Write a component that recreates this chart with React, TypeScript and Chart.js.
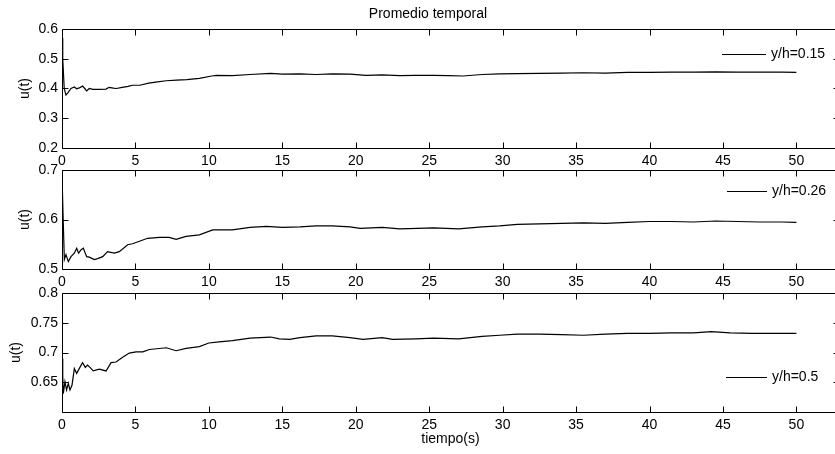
import React, { useEffect, useRef } from 'react';
import { Chart, registerables } from 'chart.js';

Chart.register(...registerables);

// ---------- data ----------
const chartTitle = 'Promedio temporal';
const xAxisTitle = 'tiempo(s)';
const yAxisTitle = 'u(t)';
const seriesLabels = ['y/h=0.15', 'y/h=0.26', 'y/h=0.5'];

const xTicks = [0, 5, 10, 15, 20, 25, 30, 35, 40, 45, 50];
const yTicks1 = [0.2, 0.3, 0.4, 0.5, 0.6];
const yTicks2 = [0.5, 0.6, 0.7];
const yTicks3 = [0.65, 0.7, 0.75, 0.8];

const t1 = [0, 0.05, 0.15, 0.27, 0.4, 0.61, 0.84, 1.0, 1.18, 1.4, 1.55, 1.68, 1.86, 2.1, 2.5, 3.0, 3.2, 3.5, 3.7, 4.1, 4.5, 4.8, 5.3, 5.9, 6.5, 7.1, 7.8, 8.5, 9.35, 10.2, 10.5, 11.6, 12.8, 14.2, 15, 16.2, 17.3, 18.4, 19.6, 20.7, 21.8, 23, 24, 25.3, 26.3, 27.3, 28.6, 29.8, 31, 32.5, 34, 35.5, 37, 38.5, 40, 41.5, 43, 44.5, 46, 47.5, 49, 50];
const v1 = [0.57, 0.5, 0.4, 0.378, 0.385, 0.4, 0.405, 0.399, 0.402, 0.408, 0.4, 0.392, 0.4, 0.397, 0.397, 0.398, 0.404, 0.401, 0.4, 0.404, 0.407, 0.411, 0.411, 0.418, 0.422, 0.426, 0.428, 0.43, 0.434, 0.442, 0.444, 0.443, 0.447, 0.451, 0.448, 0.449, 0.447, 0.449, 0.448, 0.444, 0.446, 0.443, 0.444, 0.444, 0.443, 0.442, 0.447, 0.449, 0.45, 0.451, 0.452, 0.453, 0.452, 0.454, 0.454, 0.455, 0.455, 0.456, 0.455, 0.455, 0.455, 0.454];

const t2 = [0, 0.08, 0.16, 0.27, 0.43, 0.61, 0.84, 1.0, 1.13, 1.3, 1.45, 1.68, 1.86, 2.2, 2.43, 2.77, 3.1, 3.56, 3.9, 4.47, 4.8, 5.27, 5.83, 6.63, 7.3, 7.77, 8.45, 9.35, 10.26, 10.7, 11.6, 12.8, 13.9, 15, 16.2, 17.3, 18.4, 19.6, 20.3, 21.8, 23, 24.2, 25.3, 27, 28.6, 29.8, 31, 32.5, 34, 35.5, 37, 38.5, 40, 41.5, 43, 44.5, 46, 47.5, 49, 50];
const v2 = [0.69, 0.6, 0.519, 0.529, 0.515, 0.525, 0.532, 0.542, 0.532, 0.539, 0.542, 0.525, 0.524, 0.519, 0.521, 0.525, 0.535, 0.532, 0.535, 0.549, 0.551, 0.556, 0.562, 0.564, 0.564, 0.56, 0.566, 0.569, 0.579, 0.579, 0.579, 0.584, 0.586, 0.584, 0.585, 0.587, 0.587, 0.585, 0.582, 0.584, 0.581, 0.582, 0.583, 0.581, 0.585, 0.587, 0.59, 0.591, 0.592, 0.593, 0.592, 0.594, 0.596, 0.596, 0.595, 0.597, 0.596, 0.595, 0.595, 0.594];

const t3 = [0, 0.05, 0.09, 0.2, 0.31, 0.43, 0.54, 0.68, 0.84, 1.0, 1.22, 1.4, 1.59, 1.74, 1.9, 2.13, 2.54, 3.0, 3.34, 3.68, 4.13, 4.58, 5.04, 5.5, 5.95, 7.1, 7.77, 8.45, 9.35, 10.0, 10.7, 11.6, 12.8, 14.2, 14.8, 15.5, 16.2, 17.3, 18.4, 19.6, 20.5, 21.8, 22.5, 24.1, 25.3, 27, 28.6, 29.8, 31, 32.5, 34, 35.5, 37, 38.5, 40, 41.5, 43, 44.2, 45.5, 47, 48.5, 50];
const v3 = [0.69, 0.66, 0.631, 0.651, 0.637, 0.648, 0.637, 0.645, 0.673, 0.665, 0.675, 0.683, 0.675, 0.679, 0.675, 0.669, 0.672, 0.669, 0.683, 0.684, 0.692, 0.699, 0.701, 0.701, 0.705, 0.708, 0.703, 0.707, 0.71, 0.716, 0.718, 0.72, 0.724, 0.726, 0.723, 0.722, 0.725, 0.728, 0.728, 0.725, 0.722, 0.725, 0.722, 0.723, 0.724, 0.723, 0.727, 0.729, 0.731, 0.731, 0.73, 0.729, 0.731, 0.732, 0.732, 0.733, 0.733, 0.735, 0.733, 0.732, 0.732, 0.732];

// ---------- layout / style ----------
const FONT = "'Liberation Sans', Arial, Helvetica, sans-serif";
const FS = 14;
const CW = 856;
const CH = 454;
const X_MAX = 52.9;

type PanelCfg = {
  t: number[]; v: number[]; label: string;
  yMin: number; yMax: number; yTicks: number[];
  padTop: number; padBottom: number; padLeft: number; yWidth: number; xHeight: number;
  showTitle: boolean; showXTitle: boolean;
  legend: { dx: number; fromTop: boolean; dy: number; len: number };
};

const panels: PanelCfg[] = [
  { t: t1, v: v1, label: seriesLabels[0], yMin: 0.2, yMax: 0.6, yTicks: yTicks1,
    padTop: 0, padBottom: CH - 148 - 22, padLeft: 17, yWidth: 45, xHeight: 22,
    showTitle: true, showXTitle: false, legend: { dx: 660, fromTop: true, dy: 25, len: 44 } },
  { t: t2, v: v2, label: seriesLabels[1], yMin: 0.5, yMax: 0.7, yTicks: yTicks2,
    padTop: 170, padBottom: CH - 269 - 22, padLeft: 17, yWidth: 45, xHeight: 22,
    showTitle: false, showXTitle: false, legend: { dx: 665, fromTop: true, dy: 21, len: 40 } },
  { t: t3, v: v3, label: seriesLabels[2], yMin: 0.6, yMax: 0.8, yTicks: yTicks3,
    padTop: 293, padBottom: CH - 412 - 36, padLeft: 8, yWidth: 54, xHeight: 36,
    showTitle: false, showXTitle: true, legend: { dx: 664, fromTop: false, dy: 35, len: 41 } },
];

const boxPlugin = {
  id: 'matlabBox',
  afterDraw(chart: any) {
    const { ctx, chartArea: a, scales } = chart;
    const L = Math.round(a.left) + 0.5;
    const R = Math.round(a.right) + 0.5;
    const T = Math.round(a.top) + 0.5;
    const B = Math.round(a.bottom) + 0.5;
    const tl = 6;
    ctx.save();
    ctx.strokeStyle = '#000';
    ctx.lineWidth = 1;
    ctx.beginPath();
    ctx.rect(L, T, R - L, B - T);
    scales.x.ticks.forEach((tk: any) => {
      const px = Math.round(scales.x.getPixelForValue(tk.value)) + 0.5;
      ctx.moveTo(px, B); ctx.lineTo(px, B - tl);
      ctx.moveTo(px, T); ctx.lineTo(px, T + tl);
    });
    scales.y.ticks.forEach((tk: any) => {
      const py = Math.round(scales.y.getPixelForValue(tk.value)) + 0.5;
      ctx.moveTo(L, py); ctx.lineTo(L + tl, py);
      ctx.moveTo(R, py); ctx.lineTo(R - tl, py);
    });
    ctx.stroke();
    ctx.restore();
  },
};

const legendPlugin = {
  id: 'inlineLegend',
  afterDatasetsDraw(chart: any, _args: any, opts: any) {
    const { ctx, chartArea: a } = chart;
    const ds = chart.data.datasets[0];
    const x0 = a.left + opts.dx;
    const y = Math.round(opts.fromTop ? a.top + opts.dy : a.bottom - opts.dy) + 0.5;
    ctx.save();
    ctx.strokeStyle = ds.borderColor;
    ctx.lineWidth = 1;
    ctx.beginPath();
    ctx.moveTo(x0, y);
    ctx.lineTo(x0 + opts.len, y);
    ctx.stroke();
    ctx.fillStyle = '#000';
    ctx.font = `${FS}px ${FONT}`;
    ctx.textBaseline = 'middle';
    ctx.textAlign = 'left';
    ctx.fillText(ds.label, x0 + opts.len + 5, y);
    ctx.restore();
  },
};

const fmt = (v: any) => String(v);

function Panel({ cfg }: { cfg: PanelCfg }) {
  const ref = useRef<HTMLCanvasElement | null>(null);
  useEffect(() => {
    if (!ref.current) return;
    const chart = new Chart(ref.current, {
      type: 'line',
      data: {
        datasets: [{
          label: cfg.label,
          data: cfg.t.map((x, i) => ({ x, y: cfg.v[i] })),
          borderColor: '#000',
          borderWidth: 1.2,
          pointRadius: 0,
          tension: 0,
          fill: false,
        }],
      },
      options: {
        animation: false,
        responsive: false,
        events: [],
        layout: { padding: { top: cfg.padTop, bottom: cfg.padBottom, left: cfg.padLeft, right: 17 } },
        plugins: {
          legend: { display: false },
          tooltip: { enabled: false },
          title: {
            display: cfg.showTitle,
            text: chartTitle,
            color: '#000',
            font: { family: FONT, size: FS, weight: 'normal' },
            padding: { top: 6, bottom: 6.2 },
          },
          inlineLegend: cfg.legend,
        } as any,
        scales: {
          x: {
            type: 'linear',
            min: 0,
            max: X_MAX,
            afterBuildTicks: (s: any) => { s.ticks = xTicks.map((value) => ({ value })); },
            afterFit: (s: any) => { s.height = cfg.xHeight; },
            grid: { display: false, drawTicks: false },
            border: { display: false },
            ticks: { color: '#000', font: { family: FONT, size: FS }, padding: 5, autoSkip: false, maxRotation: 0, callback: fmt },
            title: {
              display: cfg.showXTitle,
              text: xAxisTitle,
              color: '#000',
              font: { family: FONT, size: FS },
              padding: 0,
            },
          },
          y: {
            type: 'linear',
            min: cfg.yMin,
            max: cfg.yMax,
            afterBuildTicks: (s: any) => { s.ticks = cfg.yTicks.map((value) => ({ value })); },
            afterFit: (s: any) => { s.width = cfg.yWidth; },
            grid: { display: false, drawTicks: false },
            border: { display: false },
            ticks: { color: '#000', font: { family: FONT, size: FS }, padding: 4, autoSkip: false, callback: fmt },
            title: {
              display: true,
              text: yAxisTitle,
              color: '#000',
              font: { family: FONT, size: FS },
              padding: 0,
            },
          },
        },
      },
      plugins: [boxPlugin, legendPlugin],
    } as any);
    return () => chart.destroy();
  }, [cfg]);
  return (
    <div style={{ position: 'absolute', left: 0, top: 0, width: CW, height: CH }}>
      <canvas ref={ref} width={CW} height={CH} style={{ display: 'block', width: CW, height: CH }} />
    </div>
  );
}

export default function App() {
  return (
    <div style={{ position: 'fixed', left: 0, top: 0, width: 835, height: 454, overflow: 'hidden', background: '#fff' }}>
      {panels.map((p, i) => <Panel key={i} cfg={p} />)}
    </div>
  );
}
